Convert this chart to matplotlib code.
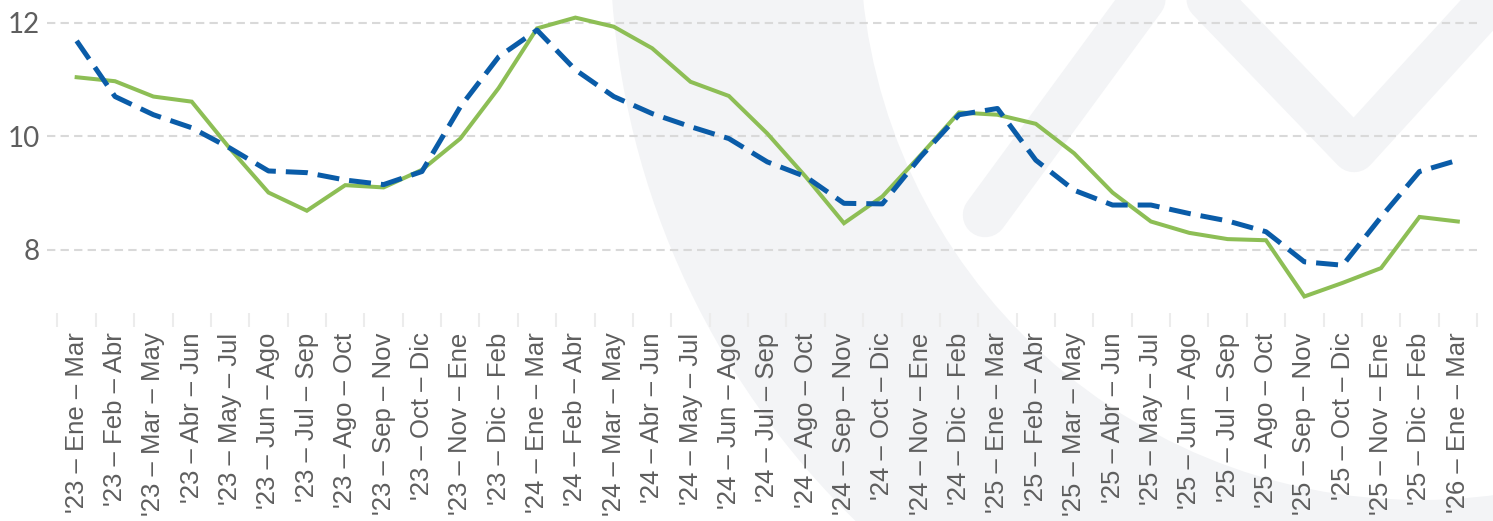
import matplotlib
matplotlib.use("Agg")
import matplotlib.pyplot as plt
from matplotlib.patches import Wedge
from matplotlib.lines import Line2D
from matplotlib.transforms import IdentityTransform
from matplotlib.ticker import FixedLocator

GREEN, BLUE, GRID, TXT, WM = "#8DBE55", "#0A5CA8", "#D9D9D9", "#5E5E5E", "#F3F4F6"

labels = [
    "'23 – Ene – Mar", "'23 – Feb – Abr", "'23 – Mar – May", "'23 – Abr – Jun",
    "'23 – May – Jul", "'23 – Jun – Ago", "'23 – Jul – Sep", "'23 – Ago – Oct",
    "'23 – Sep – Nov", "'23 – Oct – Dic", "'23 – Nov – Ene", "'23 – Dic – Feb",
    "'24 – Ene – Mar", "'24 – Feb – Abr", "'24 – Mar – May", "'24 – Abr – Jun",
    "'24 – May – Jul", "'24 – Jun – Ago", "'24 – Jul – Sep", "'24 – Ago – Oct",
    "'24 – Sep – Nov", "'24 – Oct – Dic", "'24 – Nov – Ene", "'24 – Dic – Feb",
    "'25 – Ene – Mar", "'25 – Feb – Abr", "'25 – Mar – May", "'25 – Abr – Jun",
    "'25 – May – Jul", "'25 – Jun – Ago", "'25 – Jul – Sep", "'25 – Ago – Oct",
    "'25 – Sep – Nov", "'25 – Oct – Dic", "'25 – Nov – Ene", "'25 – Dic – Feb",
    "'26 – Ene – Mar",
]
green = [11.04, 10.97, 10.70, 10.61, 9.78, 9.01, 8.69, 9.14, 9.10, 9.41,
         9.96, 10.85, 11.90, 12.09, 11.93, 11.55, 10.96, 10.71, 10.05, 9.29,
         8.47, 8.94, 9.67, 10.42, 10.38, 10.22, 9.70, 9.01, 8.50, 8.30,
         8.19, 8.17, 7.18, 7.42, 7.68, 8.58, 8.50]
blue = [11.68, 10.70, 10.38, 10.15, 9.79, 9.39, 9.36, 9.23, 9.15, 9.38,
        10.52, 11.40, 11.87, 11.17, 10.70, 10.40, 10.17, 9.96, 9.55, 9.29,
        8.82, 8.81, 9.64, 10.38, 10.49, 9.58, 9.05, 8.79, 8.79, 8.64,
        8.51, 8.32, 7.79, 7.73, 8.58, 9.38, 9.58]
yticks = [8, 10, 12]

W, H = 1493, 521
fig = plt.figure(figsize=(W / 100, H / 100), dpi=100)

# faint logo watermark behind the plot (pixel coords, top-left origin)
def px(x, y):
    return (x, H - y)

fig.add_artist(Wedge(px(1420, -60), 810, 180, 360, width=250, transform=IdentityTransform(),
                     facecolor=WM, edgecolor="none", zorder=0))
for pts in ([(985, 215), (1150, -10)], [(1200, -10), (1354, 150), (1500, -10)]):
    xs = [p[0] for p in pts]
    ys = [H - p[1] for p in pts]
    fig.add_artist(Line2D(xs, ys, lw=32, color=WM, solid_capstyle="round",
                          solid_joinstyle="round", transform=IdentityTransform(), zorder=0))

ax = fig.add_axes([47 / W, 1 - 313 / H, (1477 - 47) / W, 313 / H])
ax.patch.set_alpha(0)
ax.set_zorder(1)

x = list(range(len(labels)))
ax.plot(x, green, color=GREEN, lw=2.9, solid_joinstyle="miter", zorder=3)
ax.plot(x, blue, color=BLUE, lw=3.6, ls=(0, (4.4, 2.0)), dash_capstyle="butt", zorder=4)

ax.set_xlim(-0.773, 36.5)
ax.set_ylim(6.889, 12.40)
for s in ax.spines.values():
    s.set_visible(False)

ax.set_yticks(yticks)
ax.set_yticklabels([str(v) for v in yticks])
ax.tick_params(axis="y", length=0, pad=5, labelsize=20, labelcolor=TXT)
for t in ax.get_yticklabels():
    t.set_fontfamily("Lato")
ax.grid(axis="y", color=GRID, lw=1.5, ls=(0, (4, 2.5)))
ax.set_axisbelow(True)

ax.set_xticks(x)
ax.set_xticklabels(labels, rotation=90, fontsize=18.5, color=TXT, fontfamily="Liberation Sans")
ax.tick_params(axis="x", which="major", length=0, pad=14)
ax.xaxis.set_minor_locator(FixedLocator([i - 0.5 for i in range(len(labels) + 1)]))
ax.tick_params(axis="x", which="minor", length=10, width=1.5, color="#ECECEC")

fig.savefig("out.png", dpi=100)
